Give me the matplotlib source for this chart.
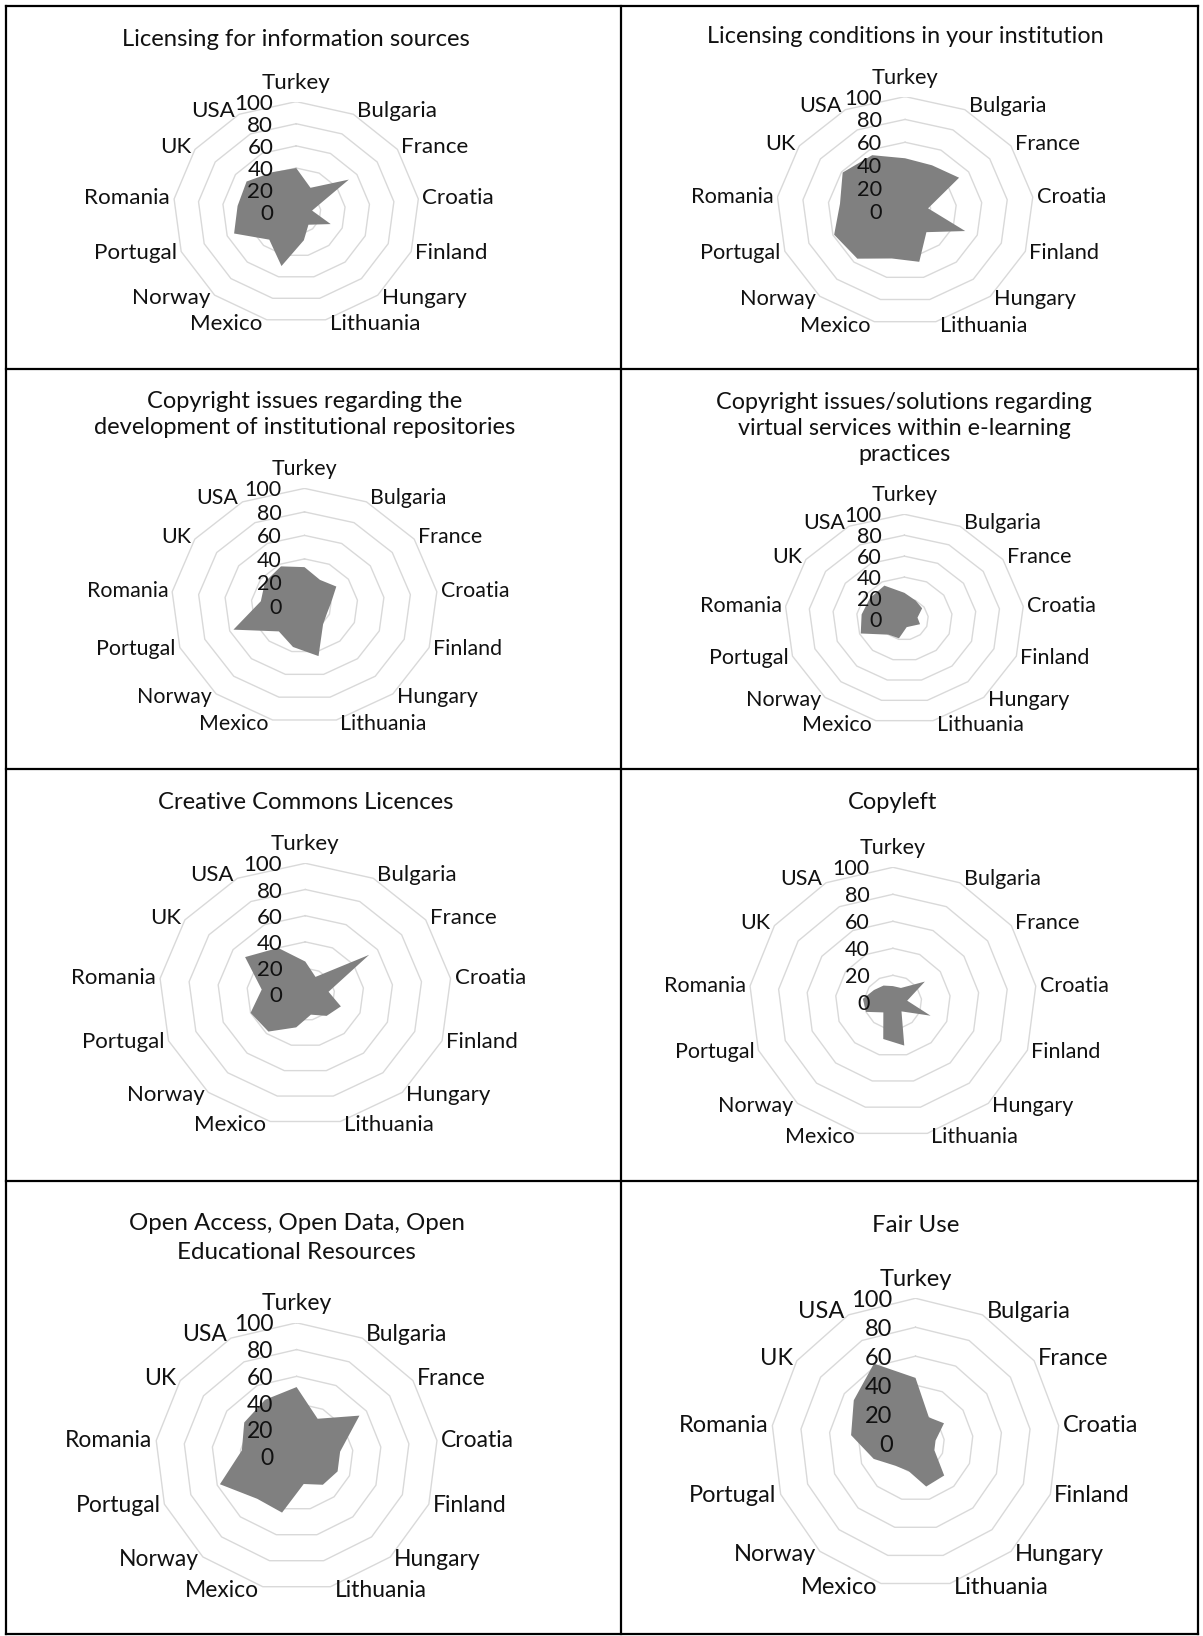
import numpy as np
import matplotlib
matplotlib.use('Agg')
import matplotlib.pyplot as plt

# ---------------- data ----------------
categories = ['Turkey', 'Bulgaria', 'France', 'Croatia', 'Finland', 'Hungary',
              'Lithuania', 'Mexico', 'Norway', 'Portugal', 'Romania', 'UK', 'USA']
radial_ticks = [0, 20, 40, 60, 80, 100]

titles = [
    'Licensing for information sources',
    'Licensing conditions in your institution',
    'Copyright issues regarding the\ndevelopment of institutional repositories',
    'Copyright issues/solutions regarding\nvirtual services within e-learning\npractices',
    'Creative Commons Licences',
    'Copyleft',
    'Open Access, Open Data, Open\nEducational Resources',
    'Fair Use',
]

licensing_sources    = [40, 25, 52, 13, 30, 15, 26, 50, 33, 54, 48, 49, 41]
licensing_conditions = [46, 45, 51, 18, 50, 25, 46, 43, 56, 59, 51, 59, 55]
repositories         = [33, 25, 29, 20, 18, 21, 44, 36, 29, 57, 33, 36, 38]
elearning            = [25, 20, 18, 11, 14, 9, 8, 19, 20, 39, 36, 35, 36]
creative_commons     = [25, 15, 53, 16, 26, 22, 16, 26, 38, 40, 30, 50, 40]
copyleft             = [12, 12, 27, 10, 28, 9, 33, 28, 10, 20, 21, 16, 14]
open_access          = [52, 32, 54, 31, 31, 28, 21, 43, 42, 58, 39, 45, 48]
fair_use             = [45, 20, 24, 14, 14, 30, 31, 20, 21, 31, 45, 52, 62]

series = [licensing_sources, licensing_conditions, repositories, elearning,
          creative_commons, copyleft, open_access, fair_use]

# ---------------- layout (pixels) ----------------
W, H, DPI = 1203, 1636, 100
# centre x, centre y, radius x, radius y, title centre y, title linespacing,
# title fontsize, label fontsize
layout = [
    (296.2, 212.3, 123.0, 110.7, 39.3, 1.2, 17.2, 16.1),
    (905.1, 210.8, 128.6, 114.2, 36.7, 1.2, 16.8, 15.7),
    (304.5, 605.9, 133.3, 117.5, 414.5, 1.31, 17.0, 15.4),
    (904.4, 619.0, 119.7, 104.7, 428.6, 1.29, 16.8, 15.5),
    (305.3, 994.3, 146.3, 131.0, 802.3, 1.2, 17.2, 16.0),
    (892.9, 1002.3, 143.9, 135.0, 802.3, 1.2, 17.0, 15.5),
    (296.6, 1456.7, 141.4, 133.9, 1238.3, 1.48, 17.4, 16.5),
    (915.5, 1443.0, 144.2, 144.7, 1226.0, 1.2, 17.4, 17.0),
]

FILL = '#808080'
GRID = '#d9d9d9'
TEXT = '#111111'
PX = 72.0 / DPI  # points per pixel

plt.rcParams['font.family'] = ['Lato', 'DejaVu Sans']
fig = plt.figure(figsize=(W / DPI, H / DPI), dpi=DPI)
fig.patch.set_facecolor('white')

# frame / cell borders
bg = fig.add_axes([0, 0, 1, 1])
bg.set_xlim(0, W)
bg.set_ylim(H, 0)
bg.axis('off')
xs_lines = [6, 621, 1198]
ys_lines = [6, 369, 769, 1181, 1634]
for x in xs_lines:
    bg.plot([x, x], [ys_lines[0], ys_lines[-1]], color='black', lw=1.6, solid_capstyle='projecting')
for y in ys_lines:
    bg.plot([xs_lines[0], xs_lines[-1]], [y, y], color='black', lw=1.6, solid_capstyle='projecting')

n = len(categories)
theta = np.arange(n) * 2 * np.pi / n
sin_t, cos_t = np.sin(theta), np.cos(theta)

for title, vals, (cx, cy, rx, ry, ty, tls, tfs, lfs) in zip(titles, series, layout):
    ax = fig.add_axes([(cx - rx) / W, 1 - (cy + ry) / H, 2 * rx / W, 2 * ry / H])
    ax.set_xlim(-100, 100)
    ax.set_ylim(-100, 100)
    ax.axis('off')

    # grid rings
    for r in radial_ticks[1:]:
        gx = np.append(r * sin_t, r * sin_t[0])
        gy = np.append(r * cos_t, r * cos_t[0])
        ax.plot(gx, gy, color=GRID, lw=1.0, zorder=1)

    v = np.asarray(vals, dtype=float)
    ax.fill(v * sin_t, v * cos_t, color=FILL, lw=0, zorder=2)

    # category labels
    for cat, s, c in zip(categories, sin_t, cos_t):
        if abs(s) < 1e-6:
            ax.annotate(cat, xy=(0, 100), xytext=(0, 19 * PX), textcoords='offset points',
                        ha='center', va='center', fontsize=lfs, color=TEXT)
        else:
            sign = 1 if s > 0 else -1
            ax.annotate(cat, xy=(100 * s, 100 * c),
                        xytext=(4 * sign * PX, 4 * c * PX), textcoords='offset points',
                        ha='left' if sign > 0 else 'right', va='center',
                        fontsize=lfs, color=TEXT)

    # radial tick labels
    for r in radial_ticks:
        ax.annotate(str(r), xy=(0, r), xytext=(-23 * PX, -2 * PX), textcoords='offset points',
                    ha='right', va='center', fontsize=lfs, color=TEXT, zorder=3)

    # title
    fig.text(cx / W, 1 - ty / H, title, ha='center', va='center', fontsize=tfs,
             linespacing=tls, color=TEXT)

fig.savefig('out.png', dpi=DPI, facecolor='white')
